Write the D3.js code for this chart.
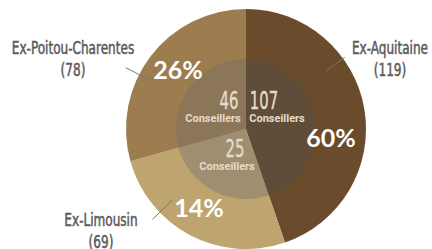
<!DOCTYPE html>
<html>
<head>
<meta charset="utf-8">
<script src="https://cdn.jsdelivr.net/npm/d3@7"></script>
<style>
  body { margin: 0; background: #fff; }
  svg { display: block; }
</style>
</head>
<body>
<svg id="chart" width="432" height="249"></svg>
<script>
// regions, seats in the region and councillors (inner)
var regions = ['Ex-Aquitaine', 'Ex-Limousin', 'Ex-Poitou-Charentes'];
var seats = [119, 69, 78];
var councillors = [107, 25, 46];
var percents = ['60%', '14%', '26%'];

var outerColors = ['#6a4b2c', '#bea46f', '#9d7c4f'];
var innerColors = ['#5f4c39', '#9f8e6f', '#8b7659'];

var svg = d3.select('#chart'),
    cx = 246, cy = 129,
    outerR = 120, innerR = 70,
    g = svg.append('g').attr('transform', 'translate(' + cx + ',' + cy + ')');

var condensed = '"Liberation Sans Narrow", "DejaVu Sans Condensed", sans-serif';

var pie = d3.pie().sort(null).value(function(d) { return d; });
var arcs = pie(seats);

var outerArc = d3.arc().innerRadius(0).outerRadius(outerR);
var innerArc = d3.arc().innerRadius(0).outerRadius(innerR);

g.append('g').selectAll('path')
  .data(arcs)
  .enter().append('path')
  .attr('d', outerArc)
  .attr('fill', function(d, i) { return outerColors[i]; });

g.append('g').selectAll('path')
  .data(arcs)
  .enter().append('path')
  .attr('d', innerArc)
  .attr('fill', function(d, i) { return innerColors[i]; });

function polar(angle, r) {
  var a = angle * Math.PI / 180;
  return [r * Math.sin(a), -r * Math.cos(a)];
}

// leader lines: angle, from radius, to radius
var leaders = [[54, 99, 122], [226, 102, 130], [297, 106, 135]];
g.append('g').selectAll('line')
  .data(leaders)
  .enter().append('line')
  .attr('x1', function(d) { return polar(d[0], d[1])[0]; })
  .attr('y1', function(d) { return polar(d[0], d[1])[1]; })
  .attr('x2', function(d) { return polar(d[0], d[2])[0]; })
  .attr('y2', function(d) { return polar(d[0], d[2])[1]; })
  .attr('stroke', '#777')
  .attr('stroke-width', 1);

// percentage labels
var pctPos = [[85, 18], [-47, 88], [-68, -50]];
g.append('g').selectAll('text')
  .data(percents)
  .enter().append('text')
  .attr('x', function(d, i) { return pctPos[i][0]; })
  .attr('y', function(d, i) { return pctPos[i][1]; })
  .attr('text-anchor', 'middle')
  .attr('fill', '#fff')
  .attr('font-family', 'Lato, "Open Sans", sans-serif')
  .attr('font-weight', 'bold')
  .attr('font-size', '25px')
  .text(function(d) { return d; });

// inner councillor counts
var numPos = [[18, -20], [-11, 28], [-17, -20]];
var wordPos = [[31, -7], [-19, 41], [-33, -7]];
var inner = g.append('g');
inner.selectAll('text.num')
  .data(councillors)
  .enter().append('text')
  .attr('class', 'num')
  .attr('transform', function(d, i) { return 'translate(' + numPos[i][0] + ',' + numPos[i][1] + ') scale(0.66,1)'; })
  .attr('text-anchor', 'middle')
  .attr('fill', '#e6dccb')
  .attr('stroke', '#e6dccb')
  .attr('stroke-width', 0.4)
  .attr('font-family', condensed)
  .attr('font-size', '25px')
  .text(function(d) { return d; });

inner.selectAll('text.word')
  .data(councillors)
  .enter().append('text')
  .attr('class', 'word')
  .attr('x', function(d, i) { return wordPos[i][0]; })
  .attr('y', function(d, i) { return wordPos[i][1]; })
  .attr('text-anchor', 'middle')
  .attr('fill', '#e6dccb')
  .attr('font-family', 'Roboto, sans-serif')
  .attr('font-weight', 'bold')
  .attr('font-size', '11px')
  .text('Conseillers');

// region names outside
var namePos = [[144, -75], [-145, 97], [-173, -75]];
var names = svg.append('g').attr('transform', 'translate(' + cx + ',' + cy + ')')
  .selectAll('g')
  .data(regions)
  .enter().append('g')
  .attr('transform', function(d, i) { return 'translate(' + namePos[i][0] + ',' + namePos[i][1] + ') scale(0.79,1)'; });

names.append('text')
  .attr('text-anchor', 'middle')
  .attr('fill', '#5b5b5b')
  .attr('stroke', '#5b5b5b')
  .attr('stroke-width', 0.5)
  .attr('font-family', condensed)
  .attr('font-size', '17px')
  .text(function(d) { return d; });

names.append('text')
  .attr('y', 22)
  .attr('text-anchor', 'middle')
  .attr('fill', '#5b5b5b')
  .attr('stroke', '#5b5b5b')
  .attr('stroke-width', 0.5)
  .attr('font-family', condensed)
  .attr('font-size', '17px')
  .text(function(d, i) { return '(' + seats[i] + ')'; });
</script>
</body>
</html>
